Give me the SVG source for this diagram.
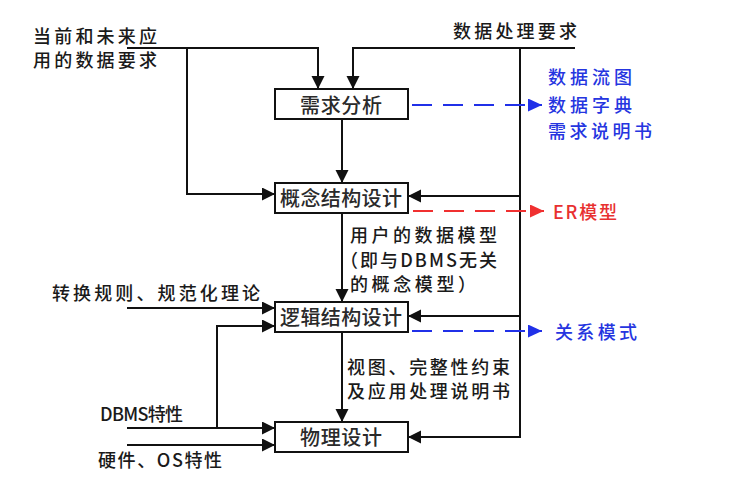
<svg xmlns="http://www.w3.org/2000/svg" width="738" height="499" viewBox="0 0 738 499">
<style>
  text { font-family: "Noto Sans CJK SC", "Noto Sans", sans-serif; dominant-baseline: central; fill: #1a1a1a; font-weight: 500; }
  .lbl { font-size: 18px; }
  .node rect { fill: #fff; stroke: #111; stroke-width: 2; }
  .node text { font-size: 20px; text-anchor: middle; fill: #2a2a2a; }
  .ln { fill: none; stroke: #111; stroke-width: 2; }
  .blue { fill: none; stroke: #2030e8; stroke-width: 2.2; stroke-dasharray: 20 11; }
  .red { fill: none; stroke: #f03030; stroke-width: 2.2; stroke-dasharray: 20 11; }
  .tb { fill: #2535e0; }
  .tr { fill: #e83030; }
</style>
<defs>
  <marker id="ak" markerUnits="userSpaceOnUse" markerWidth="14" markerHeight="14" refX="13" refY="6.5" orient="auto">
    <path d="M0,0 L13,6.5 L0,13 Z" fill="#111"/>
  </marker>
  <marker id="ab" markerUnits="userSpaceOnUse" markerWidth="15" markerHeight="14" refX="14" refY="6.5" orient="auto">
    <path d="M0,0 L14,6.5 L0,13 Z" fill="#2030e8"/>
  </marker>
  <marker id="ar" markerUnits="userSpaceOnUse" markerWidth="15" markerHeight="14" refX="14" refY="6.5" orient="auto">
    <path d="M0,0 L14,6.5 L0,13 Z" fill="#f03030"/>
  </marker>
</defs>
<rect width="738" height="499" fill="#fff"/>

<g id="connectors">
  <path class="ln" d="M127,48 H318 V89" marker-end="url(#ak)"/>
  <path class="ln" d="M187,48 V194 H275" marker-end="url(#ak)"/>
  <path class="ln" d="M575,48 H353 V89" marker-end="url(#ak)"/>
  <path class="ln" d="M520,48 V437 H408" marker-end="url(#ak)"/>
  <path class="ln" d="M520,196 H408" marker-end="url(#ak)"/>
  <path class="ln" d="M520,316 H408" marker-end="url(#ak)"/>
  <path class="ln" d="M342,119 V183" marker-end="url(#ak)"/>
  <path class="ln" d="M342,213 V302" marker-end="url(#ak)"/>
  <path class="ln" d="M342,332 V422" marker-end="url(#ak)"/>
  <path class="ln" d="M127,308 H275" marker-end="url(#ak)"/>
  <path class="ln" d="M217,428 V326 H275" marker-end="url(#ak)"/>
  <path class="ln" d="M127,428 H275" marker-end="url(#ak)"/>
  <path class="ln" d="M127,445 H275" marker-end="url(#ak)"/>
  <path class="blue" d="M412,105 H542" marker-end="url(#ab)"/>
  <path class="red" d="M413,211 H544" marker-end="url(#ar)"/>
  <path class="blue" d="M412,331 H542" marker-end="url(#ab)"/>
</g>

<g id="n-xqfx" class="node">
  <rect x="275" y="89" width="133" height="30"/>
  <text x="341" y="104" textLength="82" lengthAdjust="spacing">需求分析</text>
</g>
<g id="n-gnjg" class="node">
  <rect x="275" y="183" width="133" height="30"/>
  <text x="341" y="197" textLength="122" lengthAdjust="spacing">概念结构设计</text>
</g>
<g id="n-ljjg" class="node">
  <rect x="275" y="302" width="133" height="30"/>
  <text x="341" y="316" textLength="122" lengthAdjust="spacing">逻辑结构设计</text>
</g>
<g id="n-wlsj" class="node">
  <rect x="275" y="422" width="133" height="30"/>
  <text x="341" y="436" textLength="82" lengthAdjust="spacing">物理设计</text>
</g>

<g id="labels">
  <text class="lbl"><tspan x="33" y="35" textLength="124" lengthAdjust="spacing">当前和未来应</tspan><tspan x="33" y="58.5" textLength="124" lengthAdjust="spacing">用的数据要求</tspan></text>
  <text class="lbl" x="453" y="30" textLength="124" lengthAdjust="spacing">数据处理要求</text>
  <text class="lbl tb"><tspan x="548" y="76" textLength="84" lengthAdjust="spacing">数据流图</tspan><tspan x="548" y="104" textLength="84" lengthAdjust="spacing">数据字典</tspan><tspan x="548" y="130" textLength="104" lengthAdjust="spacing">需求说明书</tspan></text>
  <text class="lbl tr" x="553" y="211" textLength="64" lengthAdjust="spacing">ER模型</text>
  <text class="lbl"><tspan x="350" y="233.5" textLength="147" lengthAdjust="spacing">用户的数据模型</tspan><tspan x="340" y="258.5" textLength="157" lengthAdjust="spacing">（即与DBMS无关</tspan><tspan x="350" y="283" textLength="126" lengthAdjust="spacing">的概念模型）</tspan></text>
  <text class="lbl" x="52" y="292" textLength="208" lengthAdjust="spacing">转换规则、规范化理论</text>
  <text class="lbl tb" x="555" y="331" textLength="82" lengthAdjust="spacing">关系模式</text>
  <text class="lbl"><tspan x="347" y="366" textLength="163" lengthAdjust="spacing">视图、完整性约束</tspan><tspan x="347" y="390" textLength="163" lengthAdjust="spacing">及应用处理说明书</tspan></text>
  <text class="lbl" x="100" y="413" textLength="83" lengthAdjust="spacing">DBMS特性</text>
  <text class="lbl" x="98" y="459" textLength="124" lengthAdjust="spacing">硬件、OS特性</text>
</g>
</svg>
